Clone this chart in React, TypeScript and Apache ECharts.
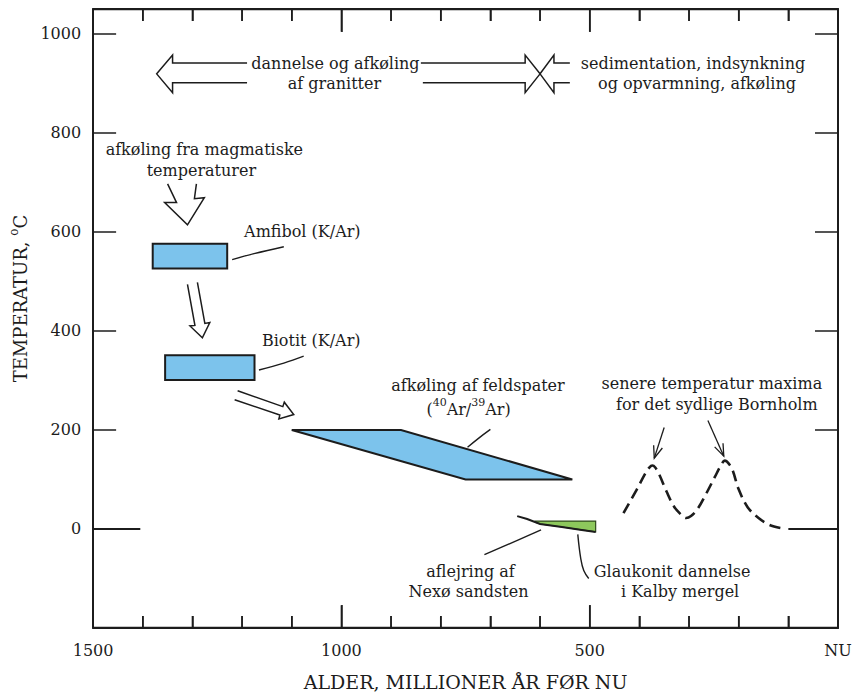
import React, { useEffect, useRef } from 'react';
import * as echarts from 'echarts';

const FONT = '"DejaVu Serif", "Liberation Serif", serif';
const INK = '#1c1c1c';
const BLUE = '#7cc3ec';
const GREEN = '#8dc85c';

// ---- axes ----
const xTickValues = [1500, 1000, 500, 0];
const xTickLabels = ['1500', '1000', '500', 'NU'];
const xMajorTicks = [1000, 500];
const xMinorTicks = [1400, 1300, 1200, 1100, 900, 800, 700, 600, 400, 300, 200, 100];
const yTickValues = [0, 200, 400, 600, 800, 1000];
const xTitle = 'ALDER, MILLIONER ÅR FØR NU';
const X_MIN = 0;
const X_MAX = 1500;
const Y_MIN = -200;
const Y_MAX = 1050;
// tick lengths expressed in temperature units
const MAJOR_TICK_T = 46;
const MINOR_TICK_T = 24;

// ---- mineral boxes (age Ma, temperature °C) ----
const amfibolAges = [1380, 1230];
const amfibolTemps = [526, 576];
const biotitAges = [1355, 1175];
const biotitTemps = [301, 351];
const feldsparAges = [1100, 880, 535, 750];
const feldsparTemps = [200, 200, 100, 100];
const glaukonitAges = [610, 488, 488, 516, 556, 600, 610];
const glaukonitTemps = [16, 16, -6, -2, 4, 10, 14];
const nexoAges = [646, 626, 600, 556, 516, 488];
const nexoTemps = [26, 20, 10, 4, -2, -6];

// ---- surface temperature ----
const surfaceOldAges = [1500, 1405];
const surfaceOldTemps = [0, 0];
const surfaceNowAges = [100, 0];
const surfaceNowTemps = [0, 0];

// ---- later temperature maxima (dashed) ----
const maximaAges = [432, 405, 388, 380, 374, 368, 360, 345, 330, 315, 306, 296, 283, 265, 248, 236, 228, 220, 212, 200, 182, 160, 138, 116];
const maximaTemps = [32, 80, 112, 124, 128, 124, 110, 75, 45, 28, 22, 26, 40, 72, 105, 128, 138, 132, 118, 80, 44, 22, 8, 2];

// ---- hollow arrows ----
const arrowMagmaAges = [1350, 1332, 1356, 1310, 1276, 1296, 1292];
const arrowMagmaTemps = [697, 659, 659, 614, 669, 667, 697];
const arrowAmfBioAges = [1310, 1295, 1305, 1280, 1265, 1275, 1290];
const arrowAmfBioTemps = [494, 411, 410, 386, 417, 415, 498];
const arrowBioFeldAges = [1209, 1118, 1115, 1096, 1126, 1124, 1215];
const arrowBioFeldTemps = [279, 247, 256, 231, 222, 230, 261];
const arrowLeftAges = [1190, 1340, 1340, 1372, 1340, 1340, 1190];
const arrowLeftTemps = [941, 941, 957, 919, 881, 901, 901];
const arrowMidAges = [840, 630, 630, 600, 630, 630, 836];
const arrowMidTemps = [941, 941, 957, 919, 881, 901, 901];
const arrowRightAges = [540, 572, 572, 600, 572, 572, 540];
const arrowRightTemps = [941, 941, 957, 919, 881, 901, 901];

// ---- leader lines ----
const amfibolLeaderAges = [1220, 1176, 1116];
const amfibolLeaderTemps = [544, 556, 570];
const biotitLeaderAges = [1166, 1116, 1076];
const biotitLeaderTemps = [321, 335, 349];
const feldsparLeaderAges = [746, 724, 700];
const feldsparLeaderTemps = [165, 183, 201];
const nexoLeaderAges = [598, 712];
const nexoLeaderTemps = [-2, -52];
const glaukonitLeaderAges = [524, 518, 512, 502];
const glaukonitLeaderTemps = [-11, -60, -84, -100];

// ---- thin pointer arrows ----
const pointerFrom = [[350, 205], [262, 219]];
const pointerTo = [[370, 143], [230, 147]];

// ---- annotation texts ----
const textLabels = [
  'dannelse og afkøling',
  'af granitter',
  'sedimentation, indsynkning',
  'og opvarmning, afkøling',
  'afkøling fra magmatiske',
  'temperaturer',
  'Amfibol (K/Ar)',
  'Biotit (K/Ar)',
  'afkøling af feldspater',
  '({s|40}Ar/{s|39}Ar)',
  'senere temperatur maxima',
  'for det sydlige Bornholm',
  'aflejring af',
  'Nexø sandsten',
  'Glaukonit dannelse',
  'i Kalby mergel',
];
const textAges = [1012, 1014, 292, 284, 1276, 1282, 1196, 1160, 725, 744, 254, 244, 740, 744, 334, 318];
const textTemps = [940, 900, 940, 900, 767, 723, 600, 380, 289, 241, 293, 251, -86, -126, -86, -126];
const textAligns = ['center', 'center', 'center', 'center', 'center', 'center', 'left', 'left', 'center', 'center', 'center', 'center', 'center', 'center', 'center', 'center'];

const pts = (ages: number[], temps: number[]) => ages.map((a, i) => [a, temps[i]]);

const polygons = [
  { ages: [amfibolAges[0], amfibolAges[1], amfibolAges[1], amfibolAges[0]], temps: [amfibolTemps[0], amfibolTemps[0], amfibolTemps[1], amfibolTemps[1]], fill: BLUE, stroke: INK, lw: 2 },
  { ages: [biotitAges[0], biotitAges[1], biotitAges[1], biotitAges[0]], temps: [biotitTemps[0], biotitTemps[0], biotitTemps[1], biotitTemps[1]], fill: BLUE, stroke: INK, lw: 2 },
  { ages: feldsparAges, temps: feldsparTemps, fill: BLUE, stroke: INK, lw: 2 },
  { ages: glaukonitAges, temps: glaukonitTemps, fill: GREEN, stroke: '#2f4a1c', lw: 1.2 },
];

// zig-zag path running just inside a frame edge, rising into each tick
const tickZigzag = (edge: number, dir: number) => {
  const sorted = [...xMajorTicks, ...xMinorTicks].sort((a, b) => b - a);
  const ages: number[] = [X_MAX];
  const temps: number[] = [edge + dir];
  sorted.forEach((v) => {
    const len = xMajorTicks.includes(v) ? MAJOR_TICK_T : MINOR_TICK_T;
    ages.push(v, v, v);
    temps.push(edge + dir, edge + dir * len, edge + dir);
  });
  ages.push(X_MIN);
  temps.push(edge + dir);
  return { ages, temps };
};

const makeXAxis = (position: string, showLabels: boolean) => ({
  type: 'value',
  position,
  min: X_MIN,
  max: X_MAX,
  interval: 500,
  inverse: true,
  axisLine: { show: true, onZero: false, lineStyle: { color: INK, width: 2 } },
  axisTick: { show: true, inside: true, length: 23, lineStyle: { color: INK, width: 1.5 } },
  minorTick: { show: true, splitNumber: 5, length: 12, lineStyle: { color: INK, width: 1.5 } },
  splitLine: { show: false },
  axisLabel: {
    show: showLabels,
    formatter: (v: number) => {
      const i = xTickValues.indexOf(v);
      return i >= 0 ? xTickLabels[i] : '';
    },
    fontFamily: FONT,
    fontSize: 16,
    color: INK,
    margin: 14,
  },
  name: showLabels ? xTitle : '',
  nameLocation: 'middle',
  nameGap: 44,
  nameTextStyle: { fontFamily: FONT, fontSize: 19, color: INK },
});

const makeYAxis = (position: string, showLabels: boolean) => ({
  type: 'value',
  position,
  min: Y_MIN,
  max: Y_MAX,
  interval: 200,
  axisLine: { show: true, onZero: false, lineStyle: { color: INK, width: 2 } },
  axisTick: { show: true, inside: true, length: 23, lineStyle: { color: INK, width: 1.5 } },
  splitLine: { show: false },
  axisLabel: {
    show: showLabels,
    formatter: (v: number) => (yTickValues.includes(v) ? String(v) : ''),
    fontFamily: FONT,
    fontSize: 16,
    color: INK,
    margin: 12,
  },
  name: showLabels ? '{t|TEMPERATUR, }{s|o}{t|C}' : '',
  nameLocation: 'middle',
  nameGap: 58,
  nameRotate: 90,
  nameTextStyle: {
    padding: [0, 0, 0, 40],
    rich: {
      t: { fontFamily: FONT, fontSize: 18, color: INK },
      s: { fontFamily: FONT, fontSize: 12, color: INK, padding: [0, 0, 13, 0] },
    },
  },
});

export default function App() {
  const ref = useRef<HTMLDivElement>(null);
  useEffect(() => {
    const chart = echarts.init(ref.current!, null, { renderer: 'svg' });

    const line = (ages: number[], temps: number[], width = 1.5, extra: any = {}) => ({
      type: 'line',
      data: pts(ages, temps),
      showSymbol: false,
      symbol: 'none',
      silent: true,
      clip: false,
      z: extra.z ?? 5,
      smooth: extra.smooth ?? false,
      lineStyle: { color: INK, width, type: extra.dash ?? 'solid', cap: 'butt', join: 'miter' },
    });

    const bottomTicks = tickZigzag(Y_MIN, 1);
    const topTicks = tickZigzag(Y_MAX, -1);

    const option: any = {
      animation: false,
      grid: { left: 88, right: 17, top: 9, bottom: 65 },
      xAxis: [makeXAxis('bottom', true), makeXAxis('top', false)],
      yAxis: [makeYAxis('left', true), makeYAxis('right', false)],
      series: [
        {
          type: 'custom',
          silent: true,
          z: 3,
          data: polygons.map((p) => [p.ages[0], p.temps[0]]),
          renderItem: (params: any, api: any) => {
            const p = polygons[params.dataIndex];
            const points = p.ages.map((a, i) => api.coord([a, p.temps[i]]));
            return {
              type: 'polygon',
              shape: { points },
              style: { fill: p.fill, stroke: p.stroke, lineWidth: p.lw, lineJoin: 'miter' },
            };
          },
        },
        line(bottomTicks.ages, bottomTicks.temps, 1.5, { z: 8 }),
        line(topTicks.ages, topTicks.temps, 1.5, { z: 8 }),
        line(surfaceOldAges, surfaceOldTemps, 2),
        line(surfaceNowAges, surfaceNowTemps, 2),
        line(maximaAges, maximaTemps, 2.6, { smooth: 0.35, dash: [11, 6] }),
        line(nexoAges, nexoTemps, 2),
        line(arrowMagmaAges, arrowMagmaTemps, 1.5),
        line(arrowAmfBioAges, arrowAmfBioTemps, 1.5),
        line(arrowBioFeldAges, arrowBioFeldTemps, 1.5),
        line(arrowLeftAges, arrowLeftTemps, 1.5),
        line(arrowMidAges, arrowMidTemps, 1.5),
        line(arrowRightAges, arrowRightTemps, 1.5),
        line(amfibolLeaderAges, amfibolLeaderTemps, 1.4, { smooth: 0.4 }),
        line(biotitLeaderAges, biotitLeaderTemps, 1.4, { smooth: 0.4 }),
        line(feldsparLeaderAges, feldsparLeaderTemps, 1.4, { smooth: 0.4 }),
        line(nexoLeaderAges, nexoLeaderTemps, 1.4),
        line(glaukonitLeaderAges, glaukonitLeaderTemps, 1.4, { smooth: 0.4 }),
        {
          type: 'custom',
          silent: true,
          z: 6,
          data: pointerFrom.map((f, i) => [f[0], f[1], pointerTo[i][0], pointerTo[i][1]]),
          renderItem: (params: any, api: any) => {
            const i = params.dataIndex;
            const p1 = api.coord(pointerFrom[i]);
            const p2 = api.coord(pointerTo[i]);
            const dx = p2[0] - p1[0];
            const dy = p2[1] - p1[1];
            const L = Math.hypot(dx, dy);
            const ux = dx / L;
            const uy = dy / L;
            const hl = 13;
            const ang = 0.36;
            const wing = (s: number) => {
              const c = Math.cos(ang);
              const sn = Math.sin(ang) * s;
              const rx = ux * c - uy * sn;
              const ry = ux * sn + uy * c;
              return [p2[0] - hl * rx, p2[1] - hl * ry];
            };
            const st = { stroke: INK, lineWidth: 1.3, fill: 'none' };
            return {
              type: 'group',
              children: [
                { type: 'line', shape: { x1: p1[0], y1: p1[1], x2: p2[0], y2: p2[1] }, style: st },
                { type: 'polyline', shape: { points: [wing(1), p2, wing(-1)] }, style: st },
              ],
            };
          },
        },
        {
          type: 'custom',
          silent: true,
          z: 10,
          data: pts(textAges, textTemps),
          renderItem: (params: any, api: any) => {
            const i = params.dataIndex;
            const p = api.coord([textAges[i], textTemps[i]]);
            return {
              type: 'text',
              x: p[0],
              y: p[1],
              style: {
                text: textLabels[i],
                fill: INK,
                fontFamily: FONT,
                fontSize: 16,
                align: textAligns[i],
                verticalAlign: 'middle',
                rich: {
                  s: { fontFamily: FONT, fontSize: 11, fill: INK, padding: [0, 0, 14, 0] },
                },
              },
            };
          },
        },
      ],
    };
    chart.setOption(option);
    return () => chart.dispose();
  }, []);
  return (
    <div
      ref={ref}
      style={{ position: 'fixed', left: 0, top: 0, width: 855, height: 696, background: '#fff' }}
    />
  );
}
